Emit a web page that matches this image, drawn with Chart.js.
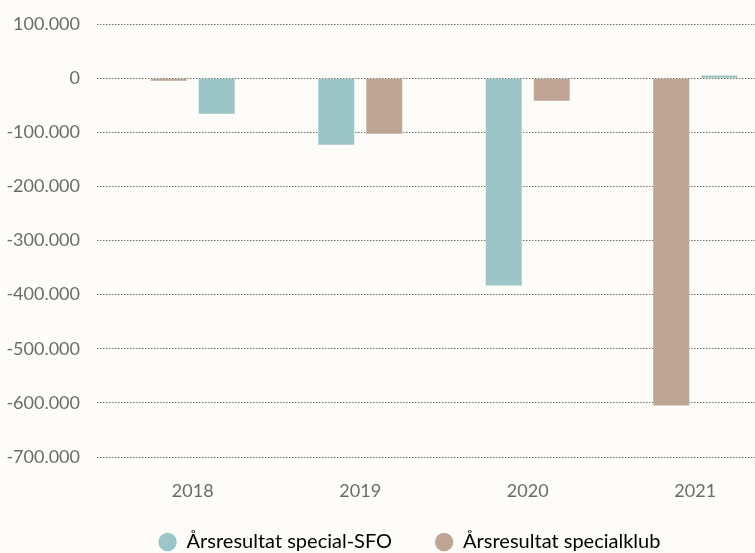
<!DOCTYPE html>
<html>
<head>
<meta charset="utf-8">
<script src="https://cdn.jsdelivr.net/npm/chart.js@4.4.1/dist/chart.umd.min.js"></script>
<style>
    html, body { margin: 0; padding: 0; background: #fdfcf8; overflow: hidden; }
    #wrap { width: 755px; height: 553px; overflow: hidden; position: relative; }
    canvas { display: block; }
</style>
</head>
<body>
<div id="wrap"><canvas id="resultChart" width="845" height="562"></canvas></div>
<script>
const years = ['2018', '2019', '2020', '2021'];
const sfoResult = [-66000, -123000, -383000, 5000];
const clubResult = [-5000, -103000, -42000, -605000];
// which series sits in the left slot of each year group
const sfoFirst = [false, true, true, false];
const yTicks = [100000, 0, -100000, -200000, -300000, -400000, -500000, -600000, -700000];
const seriesNames = ['Årsresultat special-SFO', 'Årsresultat specialklub'];

(function () {
    const teal = '#9bc5c6';
    const tan = '#bfa594';
    const textColor = '#6b6b6b';
    const gridColor = '#6f6f6f';

    function formatDk(v) {
        const s = String(Math.abs(v)).replace(/\B(?=(\d{3})+(?!\d))/g, '.');
        return (v < 0 ? '-' : '') + s;
    }

    function slot(first) {
        return {
            data: years.map((_, i) => (sfoFirst[i] === first ? sfoResult[i] : clubResult[i])),
            backgroundColor: years.map((_, i) => (sfoFirst[i] === first ? teal : tan)),
            categoryPercentage: 0.573,
            barPercentage: 0.75,
            borderWidth: 0
        };
    }

    // nudge the legend row to the right, it is not centred under the plot
    const legendShift = {
        id: 'legendShift',
        afterLayout(chart) {
            if (!chart.legend) return;
            chart.legend.left += 20;
            chart.legend.right += 20;
        }
    };

    const ctx = document.getElementById('resultChart');
    new Chart(ctx, {
        type: 'bar',
        data: {
            labels: years,
            datasets: [slot(true), slot(false)]
        },
        plugins: [legendShift],
        options: {
            responsive: false,
            animation: false,
            layout: { padding: { top: 24, right: 66, left: 0, bottom: 0 } },
            plugins: {
                tooltip: { enabled: false },
                legend: {
                    position: 'bottom',
                    onClick: null,
                    labels: {
                        usePointStyle: true,
                        pointStyle: 'circle',
                        boxWidth: 18,
                        boxHeight: 13,
                        padding: 28,
                        color: textColor,
                        font: { family: 'Lato', size: 20 },
                        // em space after the first entry widens the gap between the two items
                        generateLabels: () => [teal, tan].map((c, i) => ({
                            text: i === 0 ? seriesNames[i] + '\u2003' : seriesNames[i],
                            fillStyle: c,
                            strokeStyle: c,
                            lineWidth: 0,
                            pointStyle: 'circle',
                            datasetIndex: i
                        }))
                    }
                }
            },
            scales: {
                x: {
                    grid: { display: false },
                    border: { display: false },
                    ticks: { color: textColor, padding: 15, font: { family: 'Lato', size: 18 } },
                    afterFit: (scale) => { scale.height = 47; }
                },
                y: {
                    min: -700000,
                    max: 100000,
                    afterBuildTicks: (scale) => { scale.ticks = yTicks.map(v => ({ value: v })); },
                    grid: {
                        color: gridColor,
                        lineWidth: 1,
                        drawTicks: true,
                        tickLength: 12,
                        tickColor: gridColor,
                        tickBorderDash: [1.5, 1.5]
                    },
                    border: { display: false, dash: [1.5, 1.5] },
                    ticks: {
                        color: textColor,
                        padding: 17,
                        font: { family: 'Lato', size: 18 },
                        callback: (v) => formatDk(v)
                    },
                    afterFit: (scale) => {
                        scale.width = 109;
                        scale.paddingTop = 0;
                        scale.paddingBottom = 0;
                    }
                }
            }
        }
    });
})();
</script>
</body>
</html>
